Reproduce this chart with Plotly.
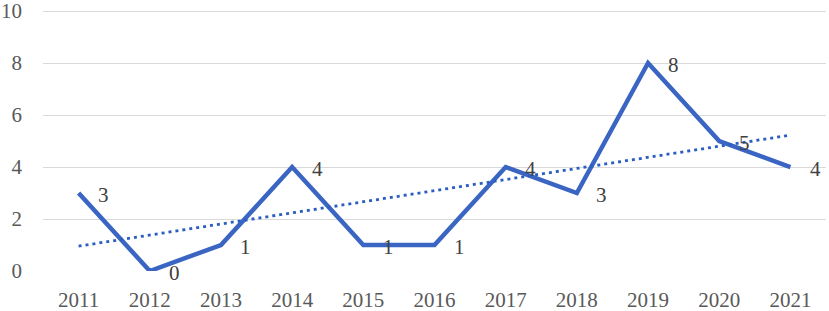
import numpy as np
import plotly.graph_objects as go

years = ["2011", "2012", "2013", "2014", "2015", "2016", "2017", "2018", "2019", "2020", "2021"]
counts = [3, 0, 1, 4, 1, 1, 4, 3, 8, 5, 4]
y_ticks = [0, 2, 4, 6, 8, 10]

# linear trendline (least squares, as in the spreadsheet trendline)
idx = np.arange(len(years))
slope, intercept = np.polyfit(idx, counts, 1)
trend = slope * idx + intercept

FONT = "Liberation Serif"
FS = 21
fig = go.Figure()
fig.add_trace(go.Scatter(x=years, y=counts, mode="lines",
                         line=dict(color="#3A65C3", width=4.5), showlegend=False))
fig.add_trace(go.Scatter(x=years, y=trend, mode="lines",
                         line=dict(color="#2C5EC2", width=2.8, dash="3px,4px"), showlegend=False))

for i, v in enumerate(counts):
    fig.add_annotation(x=i, y=v, xref="x", yref="y", text=str(v), showarrow=False,
                       xshift=25, yshift=-2,
                       font=dict(family=FONT, size=FS, color="#404040"))

fig.update_layout(
    width=829, height=311,
    margin=dict(l=43, r=3, t=10, b=40),
    paper_bgcolor="white", plot_bgcolor="white",
    showlegend=False,
    font=dict(family=FONT, size=FS, color="#595959"),
    xaxis=dict(type="category", range=[-0.5, 10.5], showgrid=False, showline=False,
               automargin=False, ticks="", ticklabelstandoff=14,
               tickfont=dict(size=FS, color="#595959")),
    yaxis=dict(range=[0, 10.04], tickvals=y_ticks, showgrid=True, gridcolor="#D9D9D9", gridwidth=1,
               automargin=False, zeroline=False, showline=False, ticks="", ticklabelstandoff=20,
               ticklabeloverflow="allow",
               tickfont=dict(size=FS, color="#595959")),
)
fig.write_html("out.html", config={"displayModeBar": False},
               post_script="document.body.style.margin='0';document.body.style.overflow='hidden';")
